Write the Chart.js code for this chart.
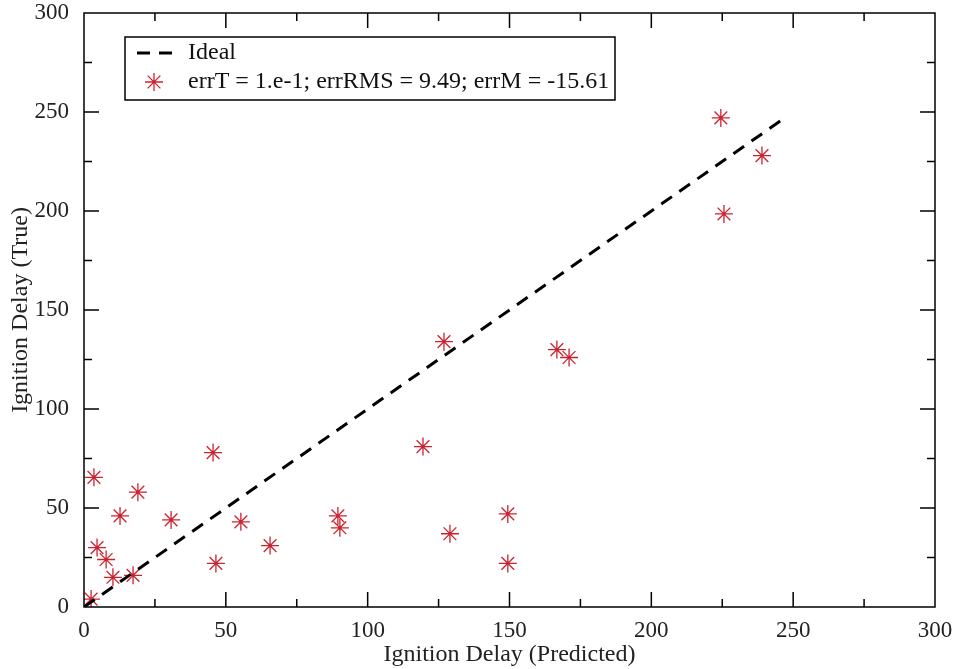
<!DOCTYPE html>
<html>
<head>
<meta charset="utf-8">
<script src="https://cdn.jsdelivr.net/npm/chart.js@4/dist/chart.umd.min.js"></script>
<style>
  html, body { margin: 0; padding: 0; background: #fff; }
  #wrap { width: 958px; height: 669px; }
</style>
</head>
<body>
<div id="wrap"><canvas id="myChart"></canvas></div>
<script>
// data
const predicted = [2.5, 3.5, 4.6, 7.8, 10.2, 12.7, 17.3, 19, 30.7, 45.5, 46.5, 55.3, 65.6, 89.5, 90.2,
                   119.5, 126.9, 129, 149.4, 149.4, 166.7, 171, 224.5, 225.6, 239];
const trueVals  = [4, 65.5, 30, 24, 15, 46, 16, 58, 44, 78, 22, 43, 31, 46, 40,
                   81, 134, 37, 22, 47, 130, 126, 247, 198.5, 228];
const idealLine = [0, 248];
const tickValues = [0, 50, 100, 150, 200, 250, 300];
const idealLabel = 'Ideal';
const pointsLabel = 'errT = 1.e-1; errRMS = 9.49; errM = -15.61';

const serif = '"Liberation Serif", "DejaVu Serif", serif';
const red = '#cc2230';

// frame + inward ticks on all four sides, like the grace plot
const frameTicks = {
    id: 'frameTicks',
    afterDatasetsDraw(chart) {
        const {ctx, chartArea: a, scales} = chart;
        ctx.save();
        ctx.strokeStyle = '#000';
        ctx.lineWidth = 1.5;
        ctx.strokeRect(a.left, a.top, a.right - a.left, a.bottom - a.top);
        for (let v = 25; v < 300; v += 25) {
            const len = v % 50 === 0 ? 15 : 8;
            const px = scales.x.getPixelForValue(v);
            const py = scales.y.getPixelForValue(v);
            ctx.beginPath();
            ctx.moveTo(px, a.bottom); ctx.lineTo(px, a.bottom - len);
            ctx.moveTo(px, a.top); ctx.lineTo(px, a.top + len);
            ctx.moveTo(a.left, py); ctx.lineTo(a.left + len, py);
            ctx.moveTo(a.right, py); ctx.lineTo(a.right - len, py);
            ctx.stroke();
        }
        ctx.restore();
    }
};

// legend box sitting inside the plot
const innerLegend = {
    id: 'innerLegend',
    afterDraw(chart) {
        const ctx = chart.ctx;
        const box = {x: 125, y: 37, w: 490, h: 63};
        const ds = chart.data.datasets;
        ctx.save();
        ctx.fillStyle = '#fff';
        ctx.fillRect(box.x, box.y, box.w, box.h);
        ctx.strokeStyle = '#000';
        ctx.lineWidth = 1.5;
        ctx.strokeRect(box.x, box.y, box.w, box.h);

        // dashed sample
        ctx.beginPath();
        ctx.setLineDash([13, 9]);
        ctx.lineWidth = 3;
        ctx.moveTo(137, 53); ctx.lineTo(172, 53);
        ctx.stroke();
        ctx.setLineDash([]);

        // star sample
        ctx.strokeStyle = red;
        ctx.fillStyle = red;
        ctx.lineWidth = 1.3;
        Chart.helpers.drawPoint(ctx, {pointStyle: 'star', radius: 9, borderWidth: 1.3}, 154, 82);

        ctx.fillStyle = '#111';
        ctx.font = '24px ' + serif;
        ctx.textBaseline = 'middle';
        ctx.fillText(ds[0].label, 188, 53);
        ctx.fillText(ds[1].label, 188, 82);
        ctx.restore();
    }
};

new Chart(document.getElementById('myChart'), {
    type: 'scatter',
    data: {
        datasets: [{
            label: idealLabel,
            data: idealLine.map(v => ({x: v, y: v})),
            showLine: true,
            borderColor: '#000',
            borderWidth: 3,
            borderDash: [13, 9],
            pointRadius: 0,
            fill: false
        }, {
            label: pointsLabel,
            data: predicted.map((p, i) => ({x: p, y: trueVals[i]})),
            pointStyle: 'star',
            pointRadius: 9,
            borderWidth: 1.3,
            borderColor: red,
            backgroundColor: red
        }]
    },
    plugins: [frameTicks, innerLegend],
    options: {
        responsive: true,
        maintainAspectRatio: false,
        animation: false,
        layout: {padding: {top: 13, right: 23, left: 0, bottom: 0}},
        plugins: {legend: {display: false}, tooltip: {enabled: false}},
        scales: {
            x: {
                type: 'linear', min: 0, max: 300,
                afterBuildTicks: s => { s.ticks = tickValues.map(v => ({value: v})); },
                afterFit: s => { s.height = 62; s.paddingLeft = 0; s.paddingRight = 0; },
                grid: {display: false},
                border: {display: false},
                ticks: {color: '#222', font: {family: serif, size: 23}, padding: 2, maxRotation: 0},
                title: {display: true, text: 'Ignition Delay (Predicted)', color: '#222',
                        font: {family: serif, size: 24}, padding: {top: 0, bottom: 0}}
            },
            y: {
                type: 'linear', min: 0, max: 300,
                afterBuildTicks: s => { s.ticks = tickValues.map(v => ({value: v})); },
                afterFit: s => { s.width = 84; s.paddingTop = 0; s.paddingBottom = 0; },
                grid: {display: false},
                border: {display: false},
                ticks: {color: '#222', font: {family: serif, size: 23}, padding: 7},
                title: {display: true, text: 'Ignition Delay (True)', color: '#222',
                        font: {family: serif, size: 24}, padding: {top: 6, bottom: 0}}
            }
        }
    }
});
</script>
</body>
</html>
